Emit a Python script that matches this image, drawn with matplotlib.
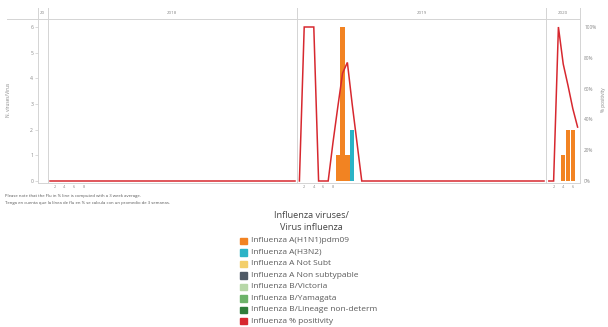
import matplotlib
matplotlib.use('Agg')
import matplotlib.pyplot as plt
from matplotlib.patches import Rectangle
from matplotlib.lines import Line2D

plt.rcParams['font.family'] = ['Open Sans', 'DejaVu Sans']

# panels (year, number of weeks shown, header text)
PANELS = [('2017', 2, '20'), ('2018', 52, '2018'), ('2019', 52, '2019'), ('2020', 7, '2020')]

# % positivity (3 week average), per year
pos_2018_weeks = [1, 52]
pos_2018 = [0, 0]
pos_2019_weeks = [1, 2, 3, 4, 5, 6, 7, 8, 9, 10, 11, 12, 13, 14, 52]
pos_2019 = [0, 100, 100, 100, 0, 0, 0, 25, 48, 70, 77, 50, 25, 0, 0]
pos_2020_weeks = [1, 2, 3, 4, 5, 6, 7]
pos_2020 = [0, 0, 100, 76, 62, 47, 35]

# virus counts
h1n1_weeks = {'2019': [9, 10, 11], '2020': [4, 5, 6]}
h1n1 = {'2019': [1, 6, 1], '2020': [1, 2, 2]}
h3n2_weeks = {'2019': [12]}
h3n2 = {'2019': [2]}

week_ticks = {'2018': [2, 4, 6, 8], '2019': [2, 4, 6, 8], '2020': [2, 4, 6]}

legend_labels = ['Influenza A(H1N1)pdm09', 'Influenza A(H3N2)', 'Influenza A Not Subt',
                 'Influenza A Non subtypable', 'Influenza B/Victoria', 'Influenza B/Yamagata',
                 'Influenza B/Lineage non-determ', 'Influenza % positivity']
legend_colors = ['#F28322', '#2BB3C6', '#F3CF6B', '#4F5A66', '#B7D7A8', '#6DB36A',
                 '#2F7D3A', '#D7282F']

RED = '#D7282F'
GRID = '#D4D4D4'
TXT = '#888888'

W, H = 608, 327
fig = plt.figure(figsize=(W / 100, H / 100), dpi=100)


def fx(x):
    return x / W


def fy(y):
    return 1 - y / H


ax = fig.add_axes([fx(38), fy(183), (580 - 38) / W, (183 - 19) / H])

# panel offsets on a shared week axis
offsets = {}
start = 0
for year, n, _ in PANELS:
    offsets[year] = start
    start += n
total = start

for year in ['2019', '2020']:
    if year in h1n1:
        xs = [offsets[year] + w - 0.5 for w in h1n1_weeks[year]]
        ax.bar(xs, h1n1[year], width=0.92, color=legend_colors[0], zorder=2)
    if year in h3n2:
        xs = [offsets[year] + w - 0.5 for w in h3n2_weeks[year]]
        ax.bar(xs, h3n2[year], width=0.92, color=legend_colors[1], zorder=2)

# positivity line on the right scale (100% == 6 on left scale)
for year, wks, vals in [('2018', pos_2018_weeks, pos_2018),
                        ('2019', pos_2019_weeks, pos_2019),
                        ('2020', pos_2020_weeks, pos_2020)]:
    xs = [offsets[year] + w - 0.5 for w in wks]
    ax.plot(xs, [v * 6 / 100 for v in vals], color=RED, lw=1.1, zorder=3,
            solid_joinstyle='miter')

ylo = -2 / 25.67
yhi = 6 + 8 / 25.67
ax.set_xlim(0, total)
ax.set_ylim(ylo, yhi)
ax.set_yticks(range(7))
ax.tick_params(axis='y', labelsize=3.6, colors=GRID, labelcolor=TXT, length=2, width=0.6, pad=1.5)

xt, xl = [], []
for year, wks in week_ticks.items():
    for w in wks:
        xt.append(offsets[year] + w - 0.5)
        xl.append(str(w))
ax.set_xticks(xt)
ax.set_xticklabels(xl)
ax.tick_params(axis='x', labelsize=2.8, labelcolor=TXT, length=0, pad=1.5)

for s in ax.spines.values():
    s.set_color(GRID)
    s.set_linewidth(0.7)

for year, n, _ in PANELS[1:]:
    ax.axvline(offsets[year], ymin=0, ymax=1 + 11 / 164, color=GRID, lw=0.7,
               clip_on=False, zorder=1)
ax.axvline(0, ymin=1, ymax=1 + 11 / 164, color=GRID, lw=0.7, clip_on=False)
ax.axvline(total, ymin=1, ymax=1 + 11 / 164, color=GRID, lw=0.7, clip_on=False)

ax2 = ax.twinx()
ax2.set_ylim(ylo * 100 / 6, yhi * 100 / 6)
ax2.set_yticks([0, 20, 40, 60, 80, 100])
ax2.set_yticklabels(['0%', '20%', '40%', '60%', '80%', '100%'])
ax2.tick_params(axis='y', labelsize=3.4, colors=GRID, labelcolor=TXT, length=0, pad=3)
for s in ax2.spines.values():
    s.set_visible(False)

# header
fig.add_artist(Line2D([fx(7), fx(38)], [fy(19), fy(19)], color=GRID, lw=0.7))
for year, n, label in PANELS:
    xc = 38 + (offsets[year] + n / 2) * 542 / total
    fig.text(fx(xc), fy(13), label, fontsize=3.2, color=TXT, ha='center', va='center')

fig.text(fx(8), fy(100), 'N. viruses/Virus', rotation=90, fontsize=3.4, color=TXT,
         ha='center', va='center')
fig.text(fx(604), fy(100), '% positivity', rotation=90, fontsize=3.4, color=TXT,
         ha='center', va='center')

fig.text(fx(5), fy(196), 'Please note that the Flu in % line is computed with a 3 week average.',
         fontsize=3.1, color='#555555', va='center')
fig.text(fx(5), fy(203), 'Tenga en cuenta que la línea de flu en % se calcula con un promedio de 3 semanas.',
         fontsize=3.1, color='#555555', va='center')

# legend
fig.text(fx(311), fy(215), 'Influenza viruses/', fontsize=6.6, color='#444444',
         ha='center', va='center')
fig.text(fx(311), fy(228), 'Virus influenza', fontsize=6.6, color='#444444',
         ha='center', va='center')
for i, (lab, col) in enumerate(zip(legend_labels, legend_colors)):
    yc = 241 + i * 11.45
    fig.add_artist(Rectangle((fx(240.5), fy(yc + 3.3)), 6.5 / W, 6.5 / H, color=col,
                             transform=fig.transFigure))
    fig.text(fx(251), fy(yc), lab, fontsize=6.0, color='#5a5a5a', va='center')

fig.savefig('out.png', dpi=100)
